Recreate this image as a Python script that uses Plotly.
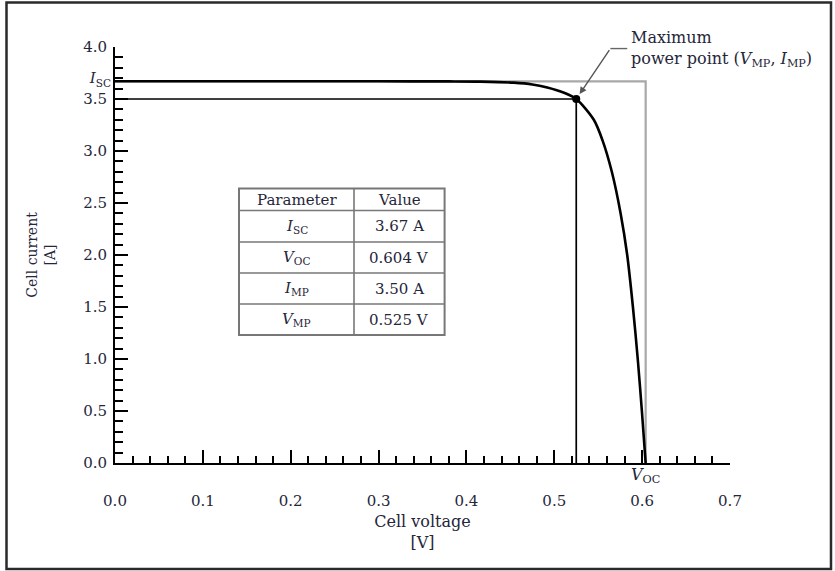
import plotly.graph_objects as go

# ---- data ----
voltage = [0.0, 0.1, 0.2, 0.3, 0.38, 0.416, 0.454, 0.475, 0.492, 0.511, 0.525,
           0.545, 0.555, 0.5655, 0.5755, 0.583, 0.5895, 0.595, 0.5997, 0.604]
current = [3.67, 3.67, 3.67, 3.67, 3.669, 3.667, 3.657, 3.64, 3.61, 3.56, 3.50,
           3.30, 3.10, 2.80, 2.40, 2.00, 1.50, 1.00, 0.50, 0.0]

ISC = 3.67
VOC = 0.604
IMP = 3.50
VMP = 0.525

x_ticks = [0.0, 0.1, 0.2, 0.3, 0.4, 0.5, 0.6, 0.7]
x_labels = ["0.0", "0.1", "0.2", "0.3", "0.4", "0.5", "0.6", "0.7"]
y_ticks = [0.0, 0.5, 1.0, 1.5, 2.0, 2.5, 3.0, 3.5, 4.0]
y_labels = ["0.0", "0.5", "1.0", "1.5", "2.0", "2.5", "3.0", "3.5", "4.0"]

table_header = ["Parameter", "Value"]
table_params = ["<i>I</i><sub>SC</sub>", "<i>V</i><sub>OC</sub>",
                "<i>I</i><sub>MP</sub>", "<i>V</i><sub>MP</sub>"]
table_values = ["3.67 A", "0.604 V", "3.50 A", "0.525 V"]

FONT = "DejaVu Serif"
TXT = "#26263a"

# ---- layout geometry (pixels) ----
W, H = 835, 571
ML, MR, MT, MB = 115, 105, 47, 108
PW, PH = W - ML - MR, H - MT - MB


def px(xp):
    return (xp - ML) / PW


def py(yp):
    return (H - MB - yp) / PH


tab_cols_px = [239, 354, 444.6]
tab_rows_px = [188.6, 210.5, 242, 273, 304, 335]

fig = go.Figure()

# grey Isc / Voc rectangle
fig.add_trace(go.Scatter(x=[0, VOC, VOC], y=[ISC, ISC, 0], mode="lines",
                         line=dict(color="#a8a8a8", width=2.2), hoverinfo="skip",
                         showlegend=False))
# black MPP rectangle
fig.add_trace(go.Scatter(x=[0, VMP, VMP], y=[IMP, IMP, 0], mode="lines",
                         line=dict(color="black", width=1.7), hoverinfo="skip",
                         showlegend=False))
# I-V curve
fig.add_trace(go.Scatter(x=voltage, y=current, mode="lines",
                         line=dict(color="black", width=2.6, shape="spline", smoothing=0.8),
                         showlegend=False))
# MPP marker
fig.add_trace(go.Scatter(x=[VMP], y=[IMP], mode="markers",
                         marker=dict(color="black", size=8), showlegend=False))
# leader line of the callout
fig.add_trace(go.Scatter(x=[0.5638, 0.583], y=[3.985, 3.985], mode="lines",
                         line=dict(color="#666666", width=1.4), hoverinfo="skip",
                         showlegend=False))
# invisible trace binding the label axes
fig.add_trace(go.Scatter(x=[VOC], y=[ISC], xaxis="x2", yaxis="y2", mode="markers",
                         marker=dict(opacity=0), hoverinfo="skip", showlegend=False))

# ---- parameter table (shapes + annotations) ----
shapes = []
annotations = []
tx0, tx1 = px(tab_cols_px[0]), px(tab_cols_px[-1])
ty0, ty1 = py(tab_rows_px[-1]), py(tab_rows_px[0])
shapes.append(dict(type="rect", xref="paper", yref="paper", x0=tx0, x1=tx1, y0=ty0, y1=ty1,
                   line=dict(color="#777777", width=2), fillcolor="white", layer="above"))
for r in tab_rows_px[1:-1]:
    shapes.append(dict(type="line", xref="paper", yref="paper", x0=tx0, x1=tx1,
                       y0=py(r), y1=py(r), line=dict(color="#777777", width=1.6),
                       layer="above"))
shapes.append(dict(type="line", xref="paper", yref="paper",
                   x0=px(tab_cols_px[1]), x1=px(tab_cols_px[1]), y0=ty0, y1=ty1,
                   line=dict(color="#777777", width=1.6), layer="above"))

rows = [table_header] + [[p, v] for p, v in zip(table_params, table_values)]
for ri, row in enumerate(rows):
    yc = py((tab_rows_px[ri] + tab_rows_px[ri + 1]) / 2)
    for ci, txt in enumerate(row):
        xc = px((tab_cols_px[ci] + tab_cols_px[ci + 1]) / 2)
        annotations.append(dict(x=xc, y=yc, xref="paper", yref="paper", text=txt,
                                showarrow=False, xanchor="center", yanchor="middle",
                                font=dict(family=FONT, size=15, color=TXT)))

# callout
annotations.append(dict(x=VMP, y=IMP, xref="x", yref="y", ax=0.5638, ay=3.985,
                        axref="x", ayref="y", text="", showarrow=True, arrowhead=2,
                        arrowsize=1, arrowwidth=1.4, arrowcolor="#555555", standoff=6))
annotations.append(dict(x=0.585, y=3.985, xref="x", yref="y", xanchor="left",
                        yanchor="middle", align="left", showarrow=False,
                        text="Maximum<br>power point (<i>V</i><sub>MP</sub>, <i>I</i><sub>MP</sub>)",
                        font=dict(family=FONT, size=16, color=TXT)))

# outer frame
shapes.append(dict(type="rect", xref="paper", yref="paper",
                   x0=px(6.5), x1=px(831), y0=py(569), y1=py(2.5),
                   line=dict(color="#2a2a2a", width=2.5), fillcolor="rgba(0,0,0,0)"))

axis_common = dict(showgrid=False, zeroline=False, showline=True, linewidth=2,
                   linecolor="black", ticks="inside", tickcolor="black", tickwidth=2,
                   ticklen=13, tickfont=dict(family=FONT, size=15, color=TXT))

fig.update_layout(
    width=W, height=H,
    margin=dict(l=ML, r=MR, t=MT, b=MB),
    paper_bgcolor="white", plot_bgcolor="white",
    showlegend=False,
    xaxis=dict(range=[0, 0.7], tickmode="array", tickvals=x_ticks, ticktext=x_labels,
               ticklabelstandoff=23,
               minor=dict(dtick=0.02, tick0=0, ticks="inside", ticklen=7,
                          tickwidth=2, tickcolor="black"),
               title=dict(text="Cell voltage<br>[V]", standoff=7,
                          font=dict(family=FONT, size=16, color=TXT)),
               **axis_common),
    yaxis=dict(range=[0, 4.0], tickmode="array", tickvals=y_ticks, ticktext=y_labels,
               ticklabelstandoff=3,
               minor=dict(dtick=0.1, tick0=0, ticks="inside", ticklen=8,
                          tickwidth=2, tickcolor="black"),
               title=dict(text="Cell current<br>[A]", standoff=24,
                          font=dict(family=FONT, size=14, color=TXT)),
               **axis_common),
    xaxis2=dict(overlaying="x", anchor="y", side="bottom", range=[0, 0.7],
                tickmode="array", tickvals=[VOC], ticktext=["<i>V</i><sub>OC</sub>"],
                ticks="", showline=False, showgrid=False, zeroline=False,
                tickfont=dict(family=FONT, size=16, color=TXT)),
    yaxis2=dict(overlaying="y", anchor="x", side="left", range=[0, 4.0],
                tickmode="array", tickvals=[ISC + 0.03], ticktext=["<i>I</i><sub>SC</sub>"],
                ticks="", showline=False, showgrid=False, zeroline=False,
                ticklabelstandoff=3,
                tickfont=dict(family=FONT, size=15, color=TXT)),
    annotations=annotations,
    shapes=shapes,
)

fig.write_html("out.html")
